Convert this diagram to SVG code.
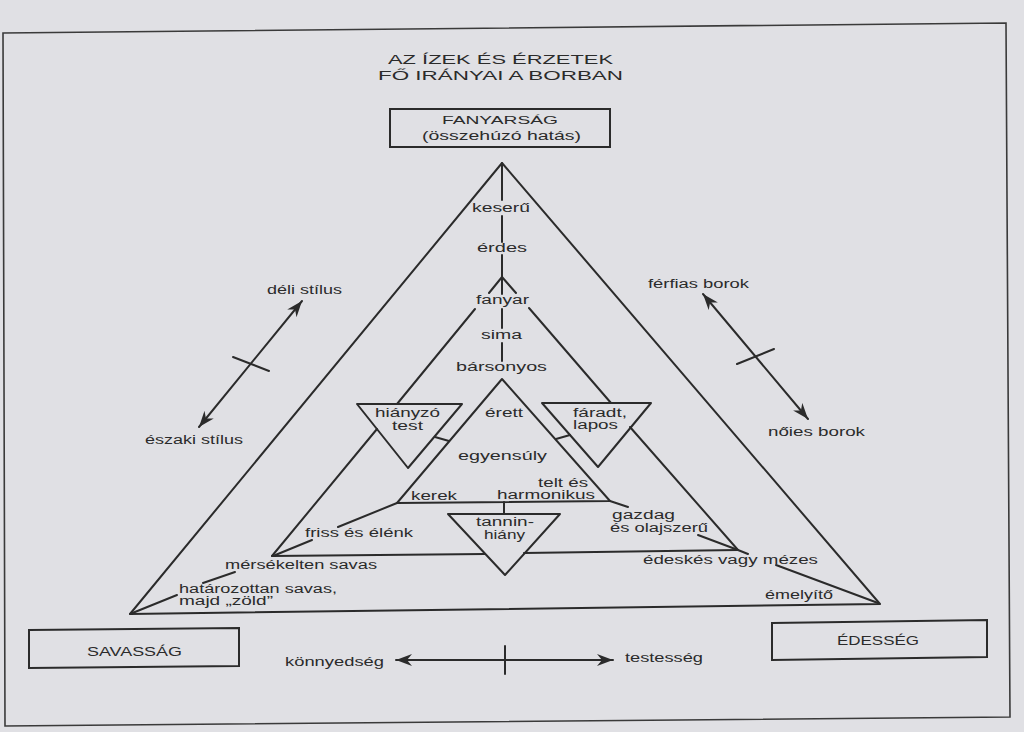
<svg xmlns="http://www.w3.org/2000/svg" width="1024" height="732" viewBox="0 0 1024 732">
<style>
.ln{stroke:#2b2b2b;stroke-width:2;fill:none;stroke-linecap:round;stroke-linejoin:round}
.box{stroke:#2b2b2b;stroke-width:2;fill:none}
.t{font-family:"Liberation Sans",Arial,sans-serif;font-size:12px;fill:#2b2b2b}
.ti{font-family:"Liberation Sans",Arial,sans-serif;font-size:13px;fill:#2b2b2b}
</style>
<defs>
<marker id="ah" markerUnits="userSpaceOnUse" markerWidth="18" markerHeight="14" refX="16" refY="6" orient="auto-start-reverse">
<path d="M0,0 L16,6 L0,12 L5,6 Z" fill="#2b2b2b"/>
</marker>
</defs>
<rect x="0" y="0" width="1024" height="732" fill="#e0e0e4"/>
<polygon points="3,33 1006,23 1010,717 5,726" fill="none" stroke="#3a3a3a" stroke-width="1.6"/>

<g id="title">
<text class="ti" x="388" y="64" textLength="225" lengthAdjust="spacingAndGlyphs">AZ ÍZEK ÉS ÉRZETEK</text>
<text class="ti" x="378" y="80" textLength="245" lengthAdjust="spacingAndGlyphs">FŐ IRÁNYAI A BORBAN</text>
</g>

<g id="node-fanyarsag">
<rect class="box" x="390" y="109" width="220" height="38"/>
<text class="t" style="font-size:11px" x="442" y="124" textLength="116" lengthAdjust="spacingAndGlyphs">FANYARSÁG</text>
<text class="t" x="422" y="140" textLength="159" lengthAdjust="spacingAndGlyphs">(összehúzó hatás)</text>
</g>

<g id="node-savassag">
<polygon class="box" points="29,630 239,628 239,666 29,668"/>
<text class="t" x="87" y="656" textLength="95" lengthAdjust="spacingAndGlyphs">SAVASSÁG</text>
</g>

<g id="node-edesseg">
<polygon class="box" points="772,623 987,620 987,657 772,660"/>
<text class="t" x="837" y="645" textLength="82" lengthAdjust="spacingAndGlyphs">ÉDESSÉG</text>
</g>

<g id="connectors">
<path class="ln" d="M130,614 L502,163 L880,604 Z"/>
<path class="ln" d="M502,163 L502,200 M502,216 L502,242 M502,255 L502,294 M502,309 L502,328 M502,343 L502,361"/>
<path class="ln" d="M489,293 L502,277 L516,293 M475,309 L397,404 M377,429 L272,556 M529,308 L611,403 M630,427 L738,550"/>
<path class="ln" d="M272,556 L485,554 M524,553 L738,550"/>
<path class="ln" d="M397,503 L502,379 L610,501 Z"/>
<path class="ln" d="M504,502 L504,514"/>
<path class="ln" d="M435,437 L449,441 M556,439 L570,435"/>
<path class="ln" d="M397,503 L338,527 M273,556 L312,540 M203,583 L235,572 M130,614 L177,595"/>
<path class="ln" d="M610,501 L628,507 M698,535 L738,550 L748,554 M776,565 L878,603"/>
<line class="ln" x1="199" y1="427" x2="302" y2="301" marker-start="url(#ah)" marker-end="url(#ah)"/>
<line class="ln" x1="233" y1="357" x2="269" y2="371"/>
<line class="ln" x1="703" y1="294" x2="808" y2="419" marker-start="url(#ah)" marker-end="url(#ah)"/>
<line class="ln" x1="737" y1="364" x2="774" y2="349"/>
<line class="ln" x1="396" y1="660" x2="613" y2="660" marker-start="url(#ah)" marker-end="url(#ah)"/>
<line class="ln" x1="505" y1="646" x2="505" y2="674"/>
</g>

<g id="node-hianyzo">
<polygon class="ln" points="357,404 462,404 408,468"/>
<text class="t" x="375" y="417" textLength="65" lengthAdjust="spacingAndGlyphs">hiányzó</text>
<text class="t" x="392" y="430" textLength="31" lengthAdjust="spacingAndGlyphs">test</text>
</g>

<g id="node-faradt">
<polygon class="ln" points="542,403 651,403 598,467"/>
<text class="t" x="573" y="417" textLength="54" lengthAdjust="spacingAndGlyphs">fáradt,</text>
<text class="t" x="573" y="429" textLength="45" lengthAdjust="spacingAndGlyphs">lapos</text>
</g>

<g id="node-tannin">
<polygon class="ln" points="448,514 560,514 505,575"/>
<text class="t" x="476" y="526" textLength="58" lengthAdjust="spacingAndGlyphs">tannin-</text>
<text class="t" x="484" y="539" textLength="41" lengthAdjust="spacingAndGlyphs">hiány</text>
</g>

<g id="labels-axis">
<text class="t" x="472" y="212" textLength="58" lengthAdjust="spacingAndGlyphs">keserű</text>
<text class="t" x="477" y="252" textLength="50" lengthAdjust="spacingAndGlyphs">érdes</text>
<text class="t" x="476" y="304" textLength="53" lengthAdjust="spacingAndGlyphs">fanyar</text>
<text class="t" x="481" y="339" textLength="41" lengthAdjust="spacingAndGlyphs">sima</text>
<text class="t" x="456" y="371" textLength="91" lengthAdjust="spacingAndGlyphs">bársonyos</text>
</g>

<g id="labels-inner">
<text class="t" x="485" y="417" textLength="38" lengthAdjust="spacingAndGlyphs">érett</text>
<text class="t" x="458" y="460" textLength="89" lengthAdjust="spacingAndGlyphs">egyensúly</text>
<text class="t" x="538" y="487" textLength="50" lengthAdjust="spacingAndGlyphs">telt és</text>
<text class="t" x="497" y="499" textLength="98" lengthAdjust="spacingAndGlyphs">harmonikus</text>
<text class="t" x="411" y="500" textLength="46" lengthAdjust="spacingAndGlyphs">kerek</text>
</g>

<g id="labels-left">
<text class="t" x="305" y="537" textLength="108" lengthAdjust="spacingAndGlyphs">friss és élénk</text>
<text class="t" x="225" y="569" textLength="152" lengthAdjust="spacingAndGlyphs">mérsékelten savas</text>
<text class="t" x="179" y="593" textLength="158" lengthAdjust="spacingAndGlyphs">határozottan savas,</text>
<text class="t" x="179" y="605" textLength="94" lengthAdjust="spacingAndGlyphs">majd „zöld”</text>
</g>

<g id="labels-right">
<text class="t" x="612" y="519" textLength="63" lengthAdjust="spacingAndGlyphs">gazdag</text>
<text class="t" x="610" y="532" textLength="98" lengthAdjust="spacingAndGlyphs">és olajszerű</text>
<text class="t" x="643" y="564" textLength="175" lengthAdjust="spacingAndGlyphs">édeskés vagy mézes</text>
<text class="t" x="765" y="599" textLength="68" lengthAdjust="spacingAndGlyphs">émelyítő</text>
</g>

<g id="labels-styles">
<text class="t" x="267" y="294" textLength="75" lengthAdjust="spacingAndGlyphs">déli stílus</text>
<text class="t" x="145" y="444" textLength="98" lengthAdjust="spacingAndGlyphs">északi stílus</text>
<text class="t" x="648" y="288" textLength="101" lengthAdjust="spacingAndGlyphs">férfias borok</text>
<text class="t" x="768" y="436" textLength="97" lengthAdjust="spacingAndGlyphs">nőies borok</text>
<text class="t" x="285" y="666" textLength="99" lengthAdjust="spacingAndGlyphs">könnyedség</text>
<text class="t" x="625" y="662" textLength="78" lengthAdjust="spacingAndGlyphs">testesség</text>
</g>
</svg>
